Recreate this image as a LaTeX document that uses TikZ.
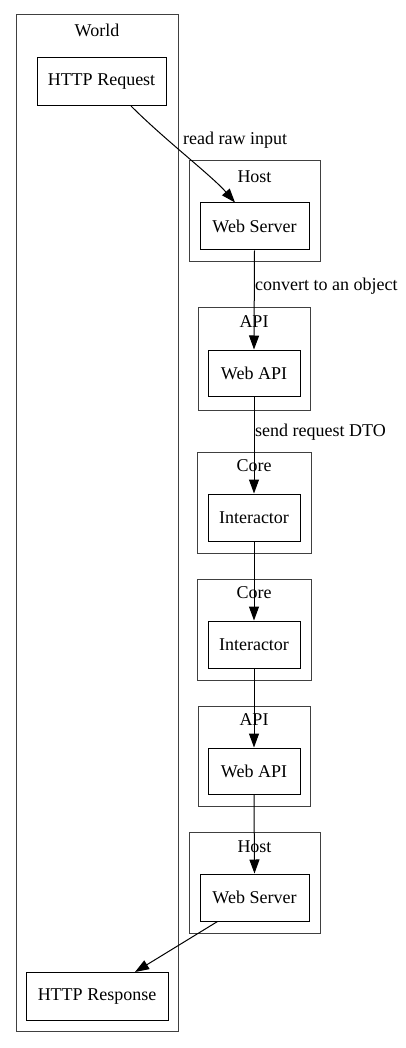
\documentclass[tikz,border=0pt]{standalone}
\usepackage{fontspec}
\setmainfont{Liberation Serif}
\usetikzlibrary{arrows.meta}
\begin{document}
\begin{tikzpicture}[x=1pt,y=-1pt,
  every node/.style={font=\fontsize{18pt}{20pt}\selectfont, inner sep=0pt},
  box/.style={draw=black, line width=1pt, rectangle},
  clusterbox/.style={draw=black!75, line width=1pt, rectangle},
  lbl/.style={anchor=center},
  elbl/.style={anchor=west},
  edge/.style={draw=black, line width=1pt, -{Triangle[length=14pt,width=10pt]}},
]
\useasboundingbox (0,0) rectangle (405,1048);
% clusters
\node[clusterbox, minimum width=162pt, minimum height=1016pt] (world) at (97,523) {};
\node[lbl] (worldl) at (97,30) {World};
\node[clusterbox, minimum width=131pt, minimum height=101pt] (host1) at (254.5,211.5) {};
\node[lbl] (host1l) at (254.5,177) {Host};
\node[clusterbox, minimum width=112pt, minimum height=103pt] (api1) at (254,358.5) {};
\node[lbl] (api1l) at (254,322) {API};
\node[clusterbox, minimum width=114pt, minimum height=101pt] (core1) at (254,502.5) {};
\node[lbl] (core1l) at (254,466) {Core};
\node[clusterbox, minimum width=114pt, minimum height=101pt] (core2) at (254,629.5) {};
\node[lbl] (core2l) at (254,593) {Core};
\node[clusterbox, minimum width=112pt, minimum height=100pt] (api2) at (254,756) {};
\node[lbl] (api2l) at (254,720) {API};
\node[clusterbox, minimum width=131pt, minimum height=101pt] (host2) at (254.5,882.5) {};
\node[lbl] (host2l) at (254.5,847) {Host};
% nodes
\node[box, minimum width=129pt, minimum height=48pt] (req) at (101.5,81.5) {HTTP Request};
\node[box, minimum width=109pt, minimum height=47pt] (ws1) at (254.5,226.5) {Web Server};
\node[box, minimum width=92pt, minimum height=46pt] (wa1) at (254,373) {Web API};
\node[box, minimum width=92pt, minimum height=47pt] (in1) at (254,517.5) {Interactor};
\node[box, minimum width=92pt, minimum height=47pt] (in2) at (254,644.5) {Interactor};
\node[box, minimum width=92pt, minimum height=46pt] (wa2) at (254,771) {Web API};
\node[box, minimum width=109pt, minimum height=47pt] (ws2) at (254.5,897.5) {Web Server};
\node[box, minimum width=142pt, minimum height=48pt] (resp) at (97,996.5) {HTTP Response};
% edges
\draw[edge] (req.south) ++(29.5,0) coordinate (a1) .. controls (165,140) and (212,176) .. (ws1.north -| 235,0);
\node[elbl] (l1) at (183,140) {read raw input};
\draw[edge] (ws1.south) -- (wa1.north);
\node[elbl] (l2) at (255,286) {convert to an object};
\draw[edge] (wa1.south) -- (in1.north);
\node[elbl] (l3) at (255,432) {send request DTO};
\draw[edge] (in1.south) -- (in2.north);
\draw[edge] (in2.south) -- (wa2.north);
\draw[edge] (wa2.south) -- (ws2.north);
\draw[edge] (ws2.south) ++(-37,0) coordinate (a2) -- (resp.north -| 135,0);
\end{tikzpicture}
\end{document}
